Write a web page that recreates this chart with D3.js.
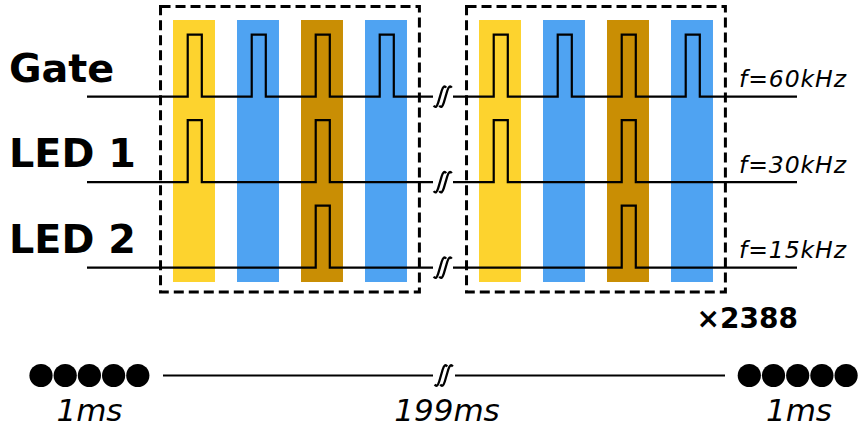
<!DOCTYPE html>
<html><head><meta charset="utf-8">
<script src="https://cdn.jsdelivr.net/npm/d3@7"></script>
<style>html,body{margin:0;padding:0;background:#fff;}svg{display:block;}</style>
</head><body>
<svg id="chart" width="859" height="428"></svg>
<script>
// ---- data ----
const signals = ["Gate", "LED 1", "LED 2"];
const frequencies = ["f=60kHz", "f=30kHz", "f=15kHz"];
const slotColors = ["#fdd32e", "#4fa3f2", "#c98e04", "#4fa3f2"];
const slots = [0, 1, 2, 3];
// pulse present (1) or not (0) per signal per slot
const gatePulses = [1, 1, 1, 1];
const led1Pulses = [1, 0, 1, 0];
const led2Pulses = [0, 0, 1, 0];
const frames = [0, 1];
const repeatLabel = "×2388";
const bottomLabels = ["1ms", "199ms", "1ms"];
const dotCount = 5;

const pulses = [gatePulses, led1Pulses, led2Pulses];

const svg = d3.select("#chart");
const font = "'DejaVu Sans', sans-serif";

const frameOffset = [0, 4.78125];
const x = d3.scaleLinear().domain([0, 1]).range([173, 237]);
const y = d3.scalePoint().domain(signals).range([96.7, 267.7]);
const barW = 0.656, pulseStart = 0.23, pulseW = 0.22, pulseH = 62;

frames.forEach(f => {
  const off = frameOffset[f];
  svg.selectAll(null).data(slots).enter().append("rect")
    .attr("x", s => x(off + s)).attr("y", 20)
    .attr("width", s => x(off + s + barW) - x(off + s)).attr("height", 262)
    .attr("fill", s => slotColors[s]);
  svg.append("rect")
    .attr("x", x(off - 0.195)).attr("y", 6.5)
    .attr("width", x(off + 3.85) - x(off - 0.195)).attr("height", 285.5)
    .attr("fill", "none").attr("stroke", "#000").attr("stroke-width", 3)
    .attr("stroke-dasharray", "10,5");
});

signals.forEach((sig, i) => {
  const y0 = y(sig);
  [[87 , 433, 0], [453, 797, 1]].forEach(([xs, xe, f]) => {
    const off = frameOffset[f];
    const pts = [[xs, y0]];
    slots.forEach(s => {
      if (pulses[i][s]) {
        const a = x(off + s + pulseStart), b = x(off + s + pulseStart + pulseW);
        pts.push([a, y0], [a, y0 - pulseH], [b, y0 - pulseH], [b, y0]);
      }
    });
    pts.push([xe, y0]);
    svg.append("path").attr("d", d3.line()(pts))
      .attr("fill", "none").attr("stroke", "#000").attr("stroke-width", 2.2);
  });
  drawBreak(443, y0);
  svg.append("text").attr("x", 9).attr("y", y0 - 15)
    .attr("font-family", font).attr("font-weight", "bold").attr("font-size", 39.7)
    .text(sig);
  svg.append("text").attr("x", 739).attr("y", y0 - 9.3)
    .attr("font-family", font).attr("font-style", "italic").attr("font-size", 23.5)
    .attr("textLength", 107).attr("lengthAdjust", "spacing")
    .text(frequencies[i]);
});

function drawBreak(cx, cy) {
  [-2.8, 2.8].forEach(dx => {
    const px = cx + dx;
    svg.append("path")
      .attr("d", `M${px-6.5},${cy+9} Q${px-4},${cy+12.5} ${px-2},${cy+6} L${px+1.5},${cy-6} Q${px+3.5},${cy-12.5} ${px+6},${cy-9}`)
      .attr("fill", "none").attr("stroke", "#000").attr("stroke-width", 2.3);
  });
}

svg.append("text").attr("x", 798).attr("y", 327.5).attr("text-anchor", "end")
  .attr("font-family", font).attr("font-weight", "bold").attr("font-size", 28)
  .text(repeatLabel);

const yb = 375.5;
svg.append("line").attr("x1", 163).attr("x2", 433).attr("y1", yb).attr("y2", yb)
  .attr("stroke", "#000").attr("stroke-width", 2.2);
svg.append("line").attr("x1", 455).attr("x2", 725).attr("y1", yb).attr("y2", yb)
  .attr("stroke", "#000").attr("stroke-width", 2.2);
drawBreak(444, yb);

const dotX = [41, 749.3];
dotX.forEach(x0 => {
  svg.selectAll(null).data(d3.range(dotCount)).enter().append("circle")
    .attr("cx", k => x0 + k * 24.2).attr("cy", yb).attr("r", 11.6).attr("fill", "#000");
});

const labelX = [89.5, 447, 799];
svg.selectAll(null).data(bottomLabels).enter().append("text")
  .attr("x", (d, i) => labelX[i]).attr("y", 421).attr("text-anchor", "middle")
  .attr("font-family", font).attr("font-style", "italic").attr("font-size", 31)
  .text(d => d);
</script>
</body></html>
